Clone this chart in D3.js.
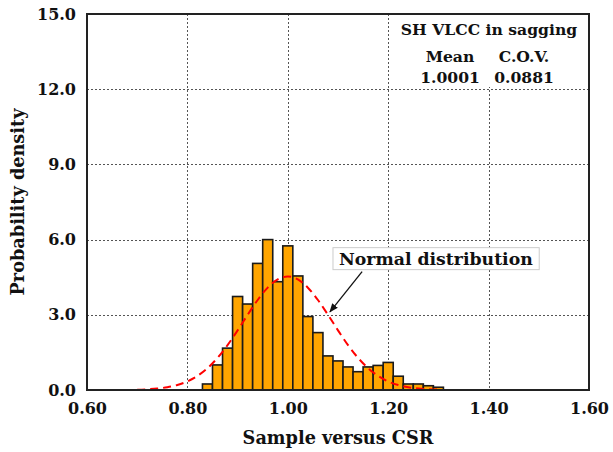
<!DOCTYPE html>
<html>
<head>
<meta charset="utf-8">
<script src="https://cdn.jsdelivr.net/npm/d3@7"></script>
<style>
  html, body { margin: 0; padding: 0; background: #fff; }
  svg { display: block; }
  text { font-family: "DejaVu Serif", "Liberation Serif", serif; font-weight: bold; fill: #111; }
</style>
</head>
<body>
<svg id="chart" width="613" height="452"></svg>
<script>
// ---- data ----
const binStart = [0.83,0.85,0.87,0.89,0.91,0.93,0.95,0.97,0.99,1.01,1.03,1.05,1.07,1.09,1.11,1.13,1.15,1.17,1.19,1.21,1.23,1.25,1.27,1.29];
const binWidth = 0.02;
const density  = [0.24,1.00,1.67,3.73,3.43,5.05,6.00,4.32,5.75,4.55,2.93,2.29,1.36,1.16,0.92,0.73,0.92,0.98,1.10,0.55,0.24,0.24,0.17,0.11];
const curveX = [0.70,0.72,0.74,0.76,0.78,0.80,0.82,0.84,0.86,0.88,0.90,0.92,0.94,0.96,0.98,1.00,1.02,1.04,1.06,1.08,1.10,1.12,1.14,1.16,1.18,1.20,1.22,1.24,1.26,1.28,1.30];
const curveY = [0.014,0.029,0.058,0.111,0.20,0.344,0.562,0.871,1.281,1.790,2.378,3.000,3.591,4.085,4.413,4.528,4.41,4.08,3.59,3.00,2.38,1.79,1.28,0.87,0.56,0.34,0.20,0.11,0.058,0.029,0.014];
const xTicks = [0.60,0.80,1.00,1.20,1.40,1.60];
const yTicks = [0.0,3.0,6.0,9.0,12.0,15.0];
const legendTitle = "SH VLCC in sagging";
const legendHeads = ["Mean","C.O.V."];
const legendVals = ["1.0001","0.0881"];
const annotText = "Normal distribution";
const annotLabelAt = [1.295, 5.24];
const annotArrowFrom = [1.148, 4.72];
const annotArrowTo = [1.084, 3.12];
const xTitle = "Sample versus CSR";
const yTitle = "Probability density";

// ---- layout ----
const L = 87, R = 589, T = 14, B = 390;
const svg = d3.select("#chart");
const x = d3.scaleLinear().domain([0.6,1.6]).range([L,R]);
const y = d3.scaleLinear().domain([0,15]).range([B,T]);

// grid
const grid = svg.append("g").attr("stroke","#555").attr("stroke-width",1).attr("stroke-dasharray","2,2");
grid.selectAll("line.v").data(xTicks.slice(1,-1)).join("line")
  .attr("x1",d=>Math.round(x(d))+0.5).attr("x2",d=>Math.round(x(d))+0.5).attr("y1",T).attr("y2",B);
grid.selectAll("line.h").data(yTicks.slice(1,-1)).join("line")
  .attr("y1",d=>Math.round(y(d))+0.5).attr("y2",d=>Math.round(y(d))+0.5).attr("x1",L).attr("x2",R);

// legend background
svg.append("rect").attr("x",395).attr("y",T+1).attr("width",R-395-1).attr("height",72).attr("fill","#fff");

// bars
svg.append("g").selectAll("rect").data(binStart).join("rect")
  .attr("x",d=>x(d)).attr("width",d=>x(d+binWidth)-x(d))
  .attr("y",(d,i)=>y(density[i])).attr("height",(d,i)=>y(0)-y(density[i]))
  .attr("fill","#FFA500").attr("stroke","#1a1a1a").attr("stroke-width",1.6);

// normal curve
const line = d3.line().x(d=>x(d[0])).y(d=>y(d[1])).curve(d3.curveMonotoneX);
svg.append("path").datum(curveX.map((v,i)=>[v,curveY[i]]))
  .attr("d",line).attr("fill","none").attr("stroke","#ff0000").attr("stroke-width",2)
  .attr("stroke-dasharray","8,5");

// frame
svg.append("rect").attr("x",L).attr("y",T).attr("width",R-L).attr("height",B-T)
  .attr("fill","none").attr("stroke","#222").attr("stroke-width",2);

// axes (labels only)
const xAxis = d3.axisBottom(x).tickValues(xTicks).tickFormat(d3.format(".2f")).tickSize(0).tickPadding(13);
const gx = svg.append("g").attr("transform",`translate(0,${B})`).call(xAxis);
gx.select(".domain").remove();
gx.selectAll("text").attr("font-size",16).attr("font-family",null).attr("fill","#111");

const yAxis = d3.axisLeft(y).tickValues(yTicks).tickFormat(d3.format(".1f")).tickSize(0).tickPadding(11);
const gy = svg.append("g").attr("transform",`translate(${L},0)`).call(yAxis);
gy.select(".domain").remove();
gy.selectAll("text").attr("font-size",16).attr("font-family",null).attr("fill","#111");

// axis titles
svg.append("text").attr("x",(L+R)/2).attr("y",444).attr("text-anchor","middle")
  .attr("font-size",17.7).text(xTitle);
svg.append("text").attr("transform",`translate(24,${(T+B)/2}) rotate(-90)`).attr("text-anchor","middle")
  .attr("font-size",17.7).text(yTitle);

// legend
svg.append("text").attr("x",489).attr("y",35).attr("text-anchor","middle").attr("font-size",15.6).text(legendTitle);
const colX = [450,524];
legendHeads.forEach((t,i)=>svg.append("text").attr("x",colX[i]).attr("y",62).attr("text-anchor","middle").attr("font-size",15.6).text(t));
legendVals.forEach((t,i)=>svg.append("text").attr("x",colX[i]).attr("y",83).attr("text-anchor","middle").attr("font-size",15.6).text(t));

// annotation
const defs = svg.append("defs");
defs.append("marker").attr("id","ah").attr("viewBox","0 0 10 10").attr("refX",9).attr("refY",5)
  .attr("markerWidth",9).attr("markerHeight",9).attr("markerUnits","userSpaceOnUse").attr("orient","auto")
  .append("path").attr("d","M0,1 L10,5 L0,9 Z").attr("fill","#111");
svg.append("line").attr("x1",x(annotArrowFrom[0])).attr("y1",y(annotArrowFrom[1]))
  .attr("x2",x(annotArrowTo[0])).attr("y2",y(annotArrowTo[1]))
  .attr("stroke","#111").attr("stroke-width",1.3).attr("marker-end","url(#ah)");
const lblCx = x(annotLabelAt[0]), lblCy = y(annotLabelAt[1]);
const lblBox = svg.append("rect");
const lbl = svg.append("text").attr("x",lblCx).attr("y",lblCy+6).attr("text-anchor","middle").attr("font-size",17.3).text(annotText);
const bb = lbl.node().getBBox();
lblBox.attr("x",bb.x-6).attr("y",lblCy-11).attr("width",bb.width+12).attr("height",22)
  .attr("fill","#fff").attr("stroke","#ccc").attr("stroke-width",1);
</script>
</body>
</html>
